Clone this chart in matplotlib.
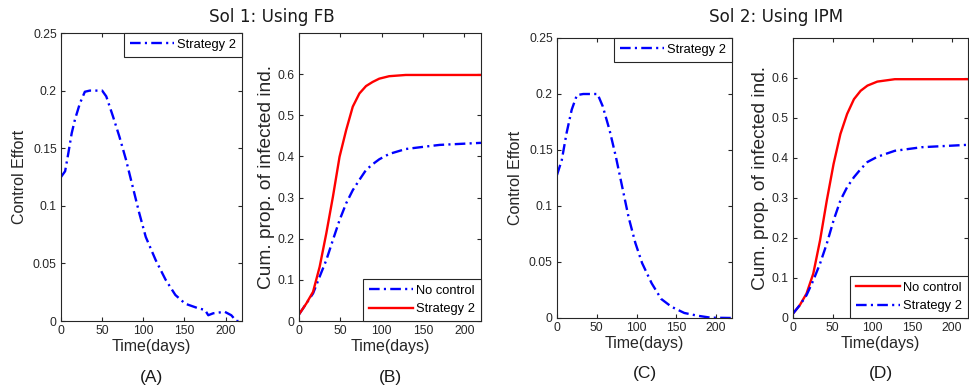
import matplotlib.pyplot as plt

# Panel A: control effort, Sol 1 (FB)
t_a = [0, 5, 9, 13, 17, 23, 29, 35, 50, 55, 63, 71, 79, 87, 95, 103, 115, 127,
       139, 151, 167, 175, 179, 185, 199, 207, 213, 218]
u_a = [0.125, 0.13, 0.146, 0.163, 0.175, 0.189, 0.199, 0.2, 0.2, 0.195, 0.178,
       0.16, 0.14, 0.117, 0.094, 0.073, 0.053, 0.036, 0.0226, 0.015, 0.011,
       0.0096, 0.005, 0.0067, 0.008, 0.005, 0.0, 0.0]

# Panel B: cumulative proportion infected, Sol 1 (FB)
t_b = [0, 9, 17, 25, 33, 41, 49, 57, 65, 73, 81, 89, 97, 109, 129, 149, 170, 220]
red_b = [0.016, 0.043, 0.071, 0.132, 0.213, 0.302, 0.399, 0.464, 0.521, 0.553,
         0.571, 0.581, 0.589, 0.595, 0.598, 0.598, 0.598, 0.598]
blue_b = [0.016, 0.043, 0.067, 0.108, 0.148, 0.197, 0.245, 0.286, 0.318, 0.343,
          0.367, 0.381, 0.393, 0.406, 0.418, 0.423, 0.428, 0.433]

# Panel C: control effort, Sol 2 (IPM)
t_c = [0, 6, 12, 18.5, 25, 33, 51, 57.5, 66, 74, 82, 90, 98.5, 107, 119, 131,
       144, 160, 177, 193, 220]
u_c = [0.1277, 0.141, 0.165, 0.186, 0.199, 0.2, 0.2, 0.189, 0.168, 0.144, 0.117,
       0.090, 0.067, 0.049, 0.031, 0.017, 0.010, 0.0045, 0.002, 0.0003, 0.0]

# Panel D: cumulative proportion infected, Sol 2 (IPM)
t_d = [0, 8.5, 17, 25.5, 34, 42.5, 51, 59.6, 68, 76.6, 85, 93.6, 106, 128, 162, 220]
red_d = [0.011, 0.032, 0.061, 0.111, 0.194, 0.294, 0.385, 0.46, 0.51, 0.547,
         0.568, 0.581, 0.591, 0.597, 0.597, 0.597]
blue_d = [0.011, 0.032, 0.057, 0.094, 0.136, 0.186, 0.244, 0.294, 0.327, 0.352,
          0.372, 0.390, 0.403, 0.418, 0.427, 0.433]

x_ticks = [0, 50, 100, 150, 200]
u_ticks = [0, 0.05, 0.1, 0.15, 0.2, 0.25]
u_ticklabels = ["0", "0.05", "0.1", "0.15", "0.2", "0.25"]
cum_ticks = [0, 0.1, 0.2, 0.3, 0.4, 0.5, 0.6]
cum_ticklabels = ["0", "0.1", "0.2", "0.3", "0.4", "0.5", "0.6"]

plt.rcParams["font.family"] = ["Liberation Sans", "DejaVu Sans"]

W, H = 969, 389
fig = plt.figure(figsize=(W / 100, H / 100), dpi=100)


def box(l, r, t, b):
    return [l / W, (H - b) / H, (r - l) / W, (b - t) / H]


ax_a = fig.add_axes(box(61, 242, 33, 321))
ax_b = fig.add_axes(box(299, 481, 33, 321))
ax_c = fig.add_axes(box(557, 732, 38, 318))
ax_d = fig.add_axes(box(793, 968, 38, 318))

lw = 1.7
dashdot = (0, (4.5, 1.8, 0.9, 1.8))

ax_a.plot(t_a, u_a, color="#0000ff", lw=lw, linestyle=dashdot, label="Strategy 2")
ax_c.plot(t_c, u_c, color="#0000ff", lw=lw, linestyle=dashdot, label="Strategy 2")

ax_b.plot(t_b, blue_b, color="#0000ff", lw=lw, linestyle=dashdot, label="No control")
ax_b.plot(t_b, red_b, color="#ff0000", lw=lw, label="Strategy 2")

ax_d.plot(t_d, red_d, color="#ff0000", lw=lw, label="No control")
ax_d.plot(t_d, blue_d, color="#0000ff", lw=lw, linestyle=dashdot, label="Strategy 2")

leg_kw = dict(fontsize=9.3, handlelength=3.4, fancybox=False, framealpha=1,
              edgecolor="#262626", borderpad=0.45, borderaxespad=0,
              handletextpad=0.25, labelspacing=0.5)

for ax in [ax_a, ax_c]:
    ax.set_ylim(0, 0.25)
    ax.set_yticks(u_ticks)
    ax.set_yticklabels(u_ticklabels)
    ax.set_ylabel("Control Effort", fontsize=11.5, color="#262626")
    leg = ax.legend(loc="upper right", **leg_kw)
    leg.get_frame().set_linewidth(0.8)

for ax in [ax_b, ax_d]:
    ax.set_ylim(0, 0.7)
    ax.set_yticks(cum_ticks)
    ax.set_yticklabels(cum_ticklabels)
    ax.set_ylabel("Cum. prop. of infected ind.", fontsize=13.8, color="#262626",
                  labelpad=2)
    leg = ax.legend(loc="lower right", **leg_kw)
    leg.get_frame().set_linewidth(0.8)

for ax, tag in zip([ax_a, ax_b, ax_c, ax_d], ["(A)", "(B)", "(C)", "(D)"]):
    ax.set_xlim(0, 220)
    ax.set_xticks(x_ticks)
    ax.set_xlabel("Time(days)", fontsize=11.5, color="#262626", labelpad=1)
    ax.tick_params(direction="in", top=True, right=True, labelsize=8.7,
                   colors="#262626", length=3, pad=3)
    for s in ax.spines.values():
        s.set_color("#262626")
        s.set_linewidth(0.8)
    ax.text(0.5, -0.17, tag, transform=ax.transAxes, ha="center", va="top",
            fontsize=12.5, color="#1a1a1a")

fig.text(272 / W, 1 - 17 / H, "Sol 1: Using FB", ha="center", va="center",
         fontsize=12.1, family="DejaVu Sans", color="#1a1a1a")
fig.text(776 / W, 1 - 17 / H, "Sol 2: Using IPM", ha="center", va="center",
         fontsize=12.1, family="DejaVu Sans", color="#1a1a1a")

fig.savefig("out.png", dpi=100)
